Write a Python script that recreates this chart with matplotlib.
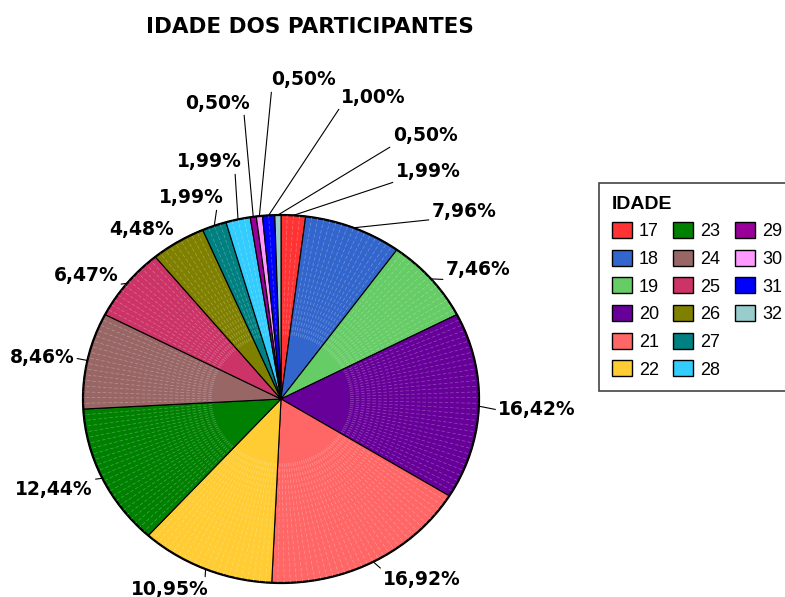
import matplotlib.pyplot as plt
import matplotlib.patches as mpatches
import numpy as np

# idade dos participantes (n = 201)
idades = ['17', '18', '19', '20', '21', '22', '23', '24',
          '25', '26', '27', '28', '29', '30', '31', '32']
participantes = [4, 16, 15, 33, 34, 22, 25, 17, 13, 9, 4, 4, 1, 1, 2, 1]
cores = ['#FF3333', '#3366CC', '#66CC66', '#660099', '#FF6666', '#FFCC33',
         '#008000', '#996666', '#CC3366', '#808000', '#008080', '#33CCFF',
         '#990099', '#FF99FF', '#0000FF', '#99CCCC']

# label centres in image pixels + where the leader line leaves the text box
label_pos = [(428, 172), (464, 212), (478, 270), (537, 410), (422, 580),
             (170, 589), (54, 490), (42, 358), (86, 275), (142, 230),
             (191, 198), (209, 162), (218, 103), (304, 80), (373, 97), (425, 136)]
label_rel = [(0, 0), (0, 0.1), (0, 0), (0, 0.5), (0, 1), (0.95, 1), (0.9, 1),
             (1, 0.5), (1, 0), (0.9, 0), (0.9, 0), (0.9, 0), (0.9, 0),
             (0, 0), (0, 0), (0, 0)]

W, H = 785, 597
fig = plt.figure(figsize=(W / 100, H / 100), dpi=100)

# pie axes: not square, so the pie comes out as an ellipse
ax = fig.add_axes([83 / W, 14 / H, 396 / W, 368 / H])
wedges, _ = ax.pie(participantes, colors=cores, startangle=90, counterclock=False,
                   wedgeprops=dict(edgecolor='black', linewidth=0.8))
ax.set_aspect('auto')
ax.set_xlim(-1, 1)
ax.set_ylim(-1, 1)
for w in wedges:
    w.set_clip_on(False)

total = sum(participantes)
cum = np.concatenate([[0], np.cumsum(participantes)])

# faint white line between each participant inside a slice
for k in range(1, total):
    if k in cum:
        continue
    a = np.radians(90 - 360 * k / total)
    ax.plot([0.35 * np.cos(a), np.cos(a)], [0.35 * np.sin(a), np.sin(a)],
            color='white', lw=0.5, alpha=0.3, ls=(0, (5, 3)), solid_capstyle='butt')

ax.add_patch(mpatches.Circle((0, 0), 1, fill=False, lw=1.6, ec='black', clip_on=False))

for i, n in enumerate(participantes):
    a = np.radians(90 - 360 * (cum[i] + n / 2) / total)
    pct = f"{100 * n / total:.2f}%".replace('.', ',')
    lx, ly = label_pos[i]
    ax.annotate(pct, xy=(np.cos(a), np.sin(a)), xycoords='data',
                xytext=(lx, H - ly), textcoords='figure pixels',
                ha='center', va='center', fontsize=13.5, fontweight='bold',
                fontfamily='DejaVu Sans',
                arrowprops=dict(arrowstyle='-', color='black', lw=0.8,
                                relpos=label_rel[i], shrinkA=0, shrinkB=0),
                annotation_clip=False)

fig.text(310 / W, 1 - 27 / H, 'IDADE DOS PARTICIPANTES', ha='center', va='center',
         fontsize=15.5, fontweight='bold', fontfamily='DejaVu Sans')

# legend: 3 columns of 6, last two cells empty
handles = [mpatches.Patch(facecolor=c, edgecolor='black', lw=1.0) for c in cores]
labels = list(idades)
for _ in range(2):
    handles.append(mpatches.Patch(facecolor='none', edgecolor='none'))
    labels.append('')
leg = fig.legend(handles, labels, loc='upper left', ncol=3,
                 bbox_to_anchor=(599 / W, 1 - 183 / H), borderaxespad=0,
                 title='IDADE', alignment='left',
                 prop={'family': 'Liberation Sans', 'size': 13},
                 title_fontproperties={'family': 'Liberation Sans', 'weight': 'bold', 'size': 14},
                 handlelength=1.1, handleheight=1.0, handletextpad=0.4,
                 columnspacing=0.8, labelspacing=0.52, borderpad=0.7,
                 fancybox=False, framealpha=1, edgecolor='#444444')
leg.get_frame().set_linewidth(1.2)

fig.savefig('out.png', dpi=100)
